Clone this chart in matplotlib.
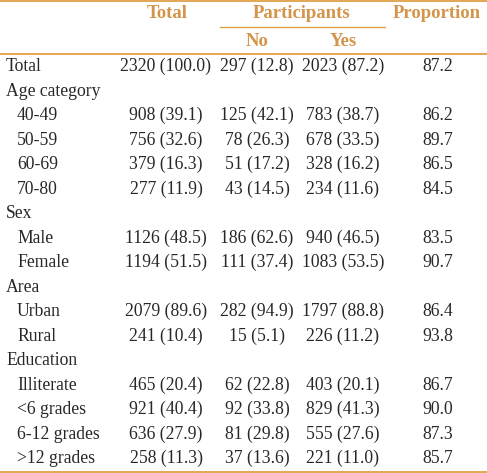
import matplotlib.pyplot as plt
from matplotlib.lines import Line2D

# table content
row_labels = ["Total", "Age category", "40-49", "50-59", "60-69", "70-80",
              "Sex", "Male", "Female", "Area", "Urban", "Rural",
              "Education", "Illiterate", "<6 grades", "6-12 grades", ">12 grades"]
indented = [False, False, True, True, True, True,
            False, True, True, False, True, True,
            False, True, True, True, True]
total_col = ["2320 (100.0)", "", "908 (39.1)", "756 (32.6)", "379 (16.3)", "277 (11.9)",
             "", "1126 (48.5)", "1194 (51.5)", "", "2079 (89.6)", "241 (10.4)",
             "", "465 (20.4)", "921 (40.4)", "636 (27.9)", "258 (11.3)"]
no_col = ["297 (12.8)", "", "125 (42.1)", "78 (26.3)", "51 (17.2)", "43 (14.5)",
          "", "186 (62.6)", "111 (37.4)", "", "282 (94.9)", "15 (5.1)",
          "", "62 (22.8)", "92 (33.8)", "81 (29.8)", "37 (13.6)"]
yes_col = ["2023 (87.2)", "", "783 (38.7)", "678 (33.5)", "328 (16.2)", "234 (11.6)",
           "", "940 (46.5)", "1083 (53.5)", "", "1797 (88.8)", "226 (11.2)",
           "", "403 (20.1)", "829 (41.3)", "555 (27.6)", "221 (11.0)"]
proportion = ["87.2", "", "86.2", "89.7", "86.5", "84.5",
              "", "83.5", "90.7", "", "86.4", "93.8",
              "", "86.7", "90.0", "87.3", "85.7"]

W, H = 487, 473
HEAD = "#d4954b"
LINE = "#e0a048"
INK = "#2a2627"
FONT = "Liberation Serif"
FS = 12.7
FS_HEAD = 13.5

fig = plt.figure(figsize=(W / 100, H / 100), dpi=100)
ax = fig.add_axes([0, 0, 1, 1])
ax.set_xlim(0, W)
ax.set_ylim(H, 0)
ax.axis("off")


def hline(x0, x1, y, lw=1.3):
    ax.add_line(Line2D([x0, x1], [y, y], color=LINE, lw=lw))


def head(x, y, s):
    ax.text(x, y, s, ha="center", va="center", color=HEAD, fontsize=FS_HEAD,
            fontweight="bold", family=FONT)


# header
hline(0, W, 1.0)
head(167, 14, "Total")
head(302, 14, "Participants")
head(437, 14, "Proportion")
hline(220, 385, 27.5, lw=1.0)
head(257, 41, "No")
head(343, 41, "Yes")
hline(0, W, 54)

# body
col_x = [166, 257, 343, 438]
y0, dy = 66.5, 24.5
for i, lab in enumerate(row_labels):
    y = y0 + i * dy
    x = 17 if indented[i] else 6
    ax.text(x, y, lab, ha="left", va="center", color=INK, fontsize=FS, family=FONT)
    for cx, col in zip(col_x, [total_col, no_col, yes_col, proportion]):
        if col[i]:
            ax.text(cx, y, col[i], ha="center", va="center", color=INK,
                    fontsize=FS, family=FONT)

hline(0, W, 471.5)

fig.savefig("out.png", dpi=100)
